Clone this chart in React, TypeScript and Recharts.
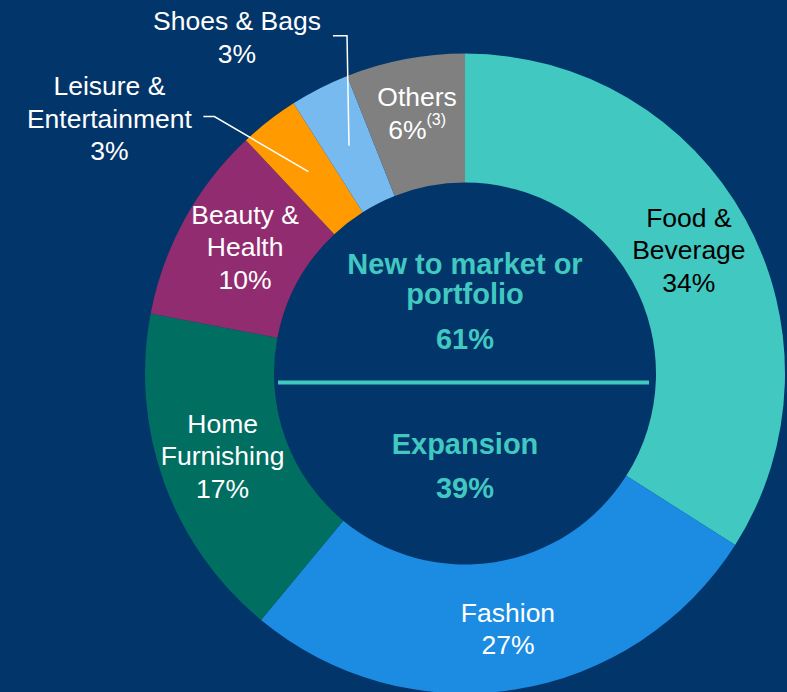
import React from "react";
import { PieChart, Pie, Cell, Label } from "recharts";

const categories = [
  "Food & Beverage",
  "Fashion",
  "Home Furnishing",
  "Beauty & Health",
  "Leisure & Entertainment",
  "Shoes & Bags",
  "Others",
];
const shares = [34, 27, 17, 10, 3, 3, 6];
const labelLines = [
  ["Food &", "Beverage"],
  ["Fashion"],
  ["Home", "Furnishing"],
  ["Beauty &", "Health"],
  ["Leisure &", "Entertainment"],
  ["Shoes & Bags"],
  ["Others"],
];
const footnotes = ["", "", "", "", "", "", "(3)"];
const colors = ["#41C9C1", "#1C8CE3", "#006E60", "#922C70", "#FF9A00", "#76BAF0", "#808080"];

const centerTop = ["New to market or", "portfolio"];
const centerTopShare = 61;
const centerBottom = "Expansion";
const centerBottomShare = 39;

const data = categories.map((name, i) => ({ name, value: shares[i] }));

const BG = "#02356A";
const TEAL = "#41C9C1";
const FONT = "'Liberation Sans', Arial, sans-serif";
const LINE_H = 32.5;
const CX = 465;
const CY = 373.5;

// nudges for labels sitting inside the ring
const insideNudge: Record<string, [number, number]> = {
  "Food & Beverage": [0, 0],
  Fashion: [3, 3],
  "Home Furnishing": [-2, -4],
  "Beauty & Health": [4, -3],
  Others: [0, -9],
};

// leader-line labels, offsets from the band midpoint of the slice
const outsideLayout: Record<string, { elbow: [number, number]; end: [number, number]; text: [number, number] }> = {
  "Leisure & Entertainment": { elbow: [-94, -55], end: [-105, -55], text: [-199, -53] },
  "Shoes & Bags": { elbow: [-2, -110], end: [-16, -110], text: [-112, -108.5] },
};

function renderLabel(props: any) {
  const { cx, cy, midAngle, innerRadius, outerRadius, index } = props;
  const RAD = Math.PI / 180;
  const r = (innerRadius + outerRadius) / 2;
  const px = cx + r * Math.cos(-midAngle * RAD);
  const py = cy + r * Math.sin(-midAngle * RAD);
  const name = categories[index];
  const lines = [...labelLines[index], `${shares[index]}%`];
  const fill = index === 0 ? "#000" : "#fff";

  let tx = px;
  let ty = py;
  let leader = null;
  const out = outsideLayout[name];
  if (out) {
    tx = px + out.text[0];
    ty = py + out.text[1];
    const pts = [
      [px, py],
      [px + out.elbow[0], py + out.elbow[1]],
      [px + out.end[0], py + out.end[1]],
    ];
    leader = (
      <polyline
        points={pts.map((p) => p.join(",")).join(" ")}
        fill="none"
        stroke="#fff"
        strokeWidth={1.5}
      />
    );
  } else {
    const n = insideNudge[name] || [0, 0];
    tx += n[0];
    ty += n[1];
  }
  const top = ty - ((lines.length - 1) * LINE_H) / 2;

  return (
    <g key={name}>
      {leader}
      <text textAnchor="middle" fill={fill} fontFamily={FONT} fontSize={26.5}>
        {lines.map((l, i) => (
          <tspan key={i} x={tx} y={top + i * LINE_H} dominantBaseline="central">
            {l}
            {i === lines.length - 1 && footnotes[index] ? (
              <tspan fontSize={16} dy={-10}>
                {footnotes[index]}
              </tspan>
            ) : null}
          </tspan>
        ))}
      </text>
    </g>
  );
}

function CenterContent() {
  const common = {
    textAnchor: "middle" as const,
    fill: TEAL,
    fontFamily: FONT,
    fontSize: 29,
    fontWeight: 700,
    dominantBaseline: "central" as const,
  };
  return (
    <g>
      <text {...common} x={CX} y={CY - 110}>{centerTop[0]}</text>
      <text {...common} x={CX} y={CY - 80}>{centerTop[1]}</text>
      <text {...common} x={CX} y={CY - 35}>{`${centerTopShare}%`}</text>
      <line x1={CX - 187} x2={CX + 184} y1={CY + 9} y2={CY + 9} stroke={TEAL} strokeWidth={4} />
      <text {...common} x={CX} y={CY + 70}>{centerBottom}</text>
      <text {...common} x={CX} y={CY + 114}>{`${centerBottomShare}%`}</text>
    </g>
  );
}

export default function App() {
  return (
    <div style={{ width: 787, height: 692, background: BG, overflow: "hidden" }}>
      <style>{`body{margin:0}`}</style>
      <PieChart width={787} height={692} margin={{ top: 0, right: 0, bottom: 0, left: 0 }}>
        <Pie
          data={data}
          dataKey="value"
          nameKey="name"
          cx={CX}
          cy={CY}
          innerRadius={191}
          outerRadius={320}
          startAngle={90}
          endAngle={-270}
          stroke="none"
          label={renderLabel}
          labelLine={false}
          isAnimationActive={false}
        >
          {data.map((d, i) => (
            <Cell key={d.name} fill={colors[i]} />
          ))}
          <Label position="center" content={CenterContent} />
        </Pie>
      </PieChart>
    </div>
  );
}
